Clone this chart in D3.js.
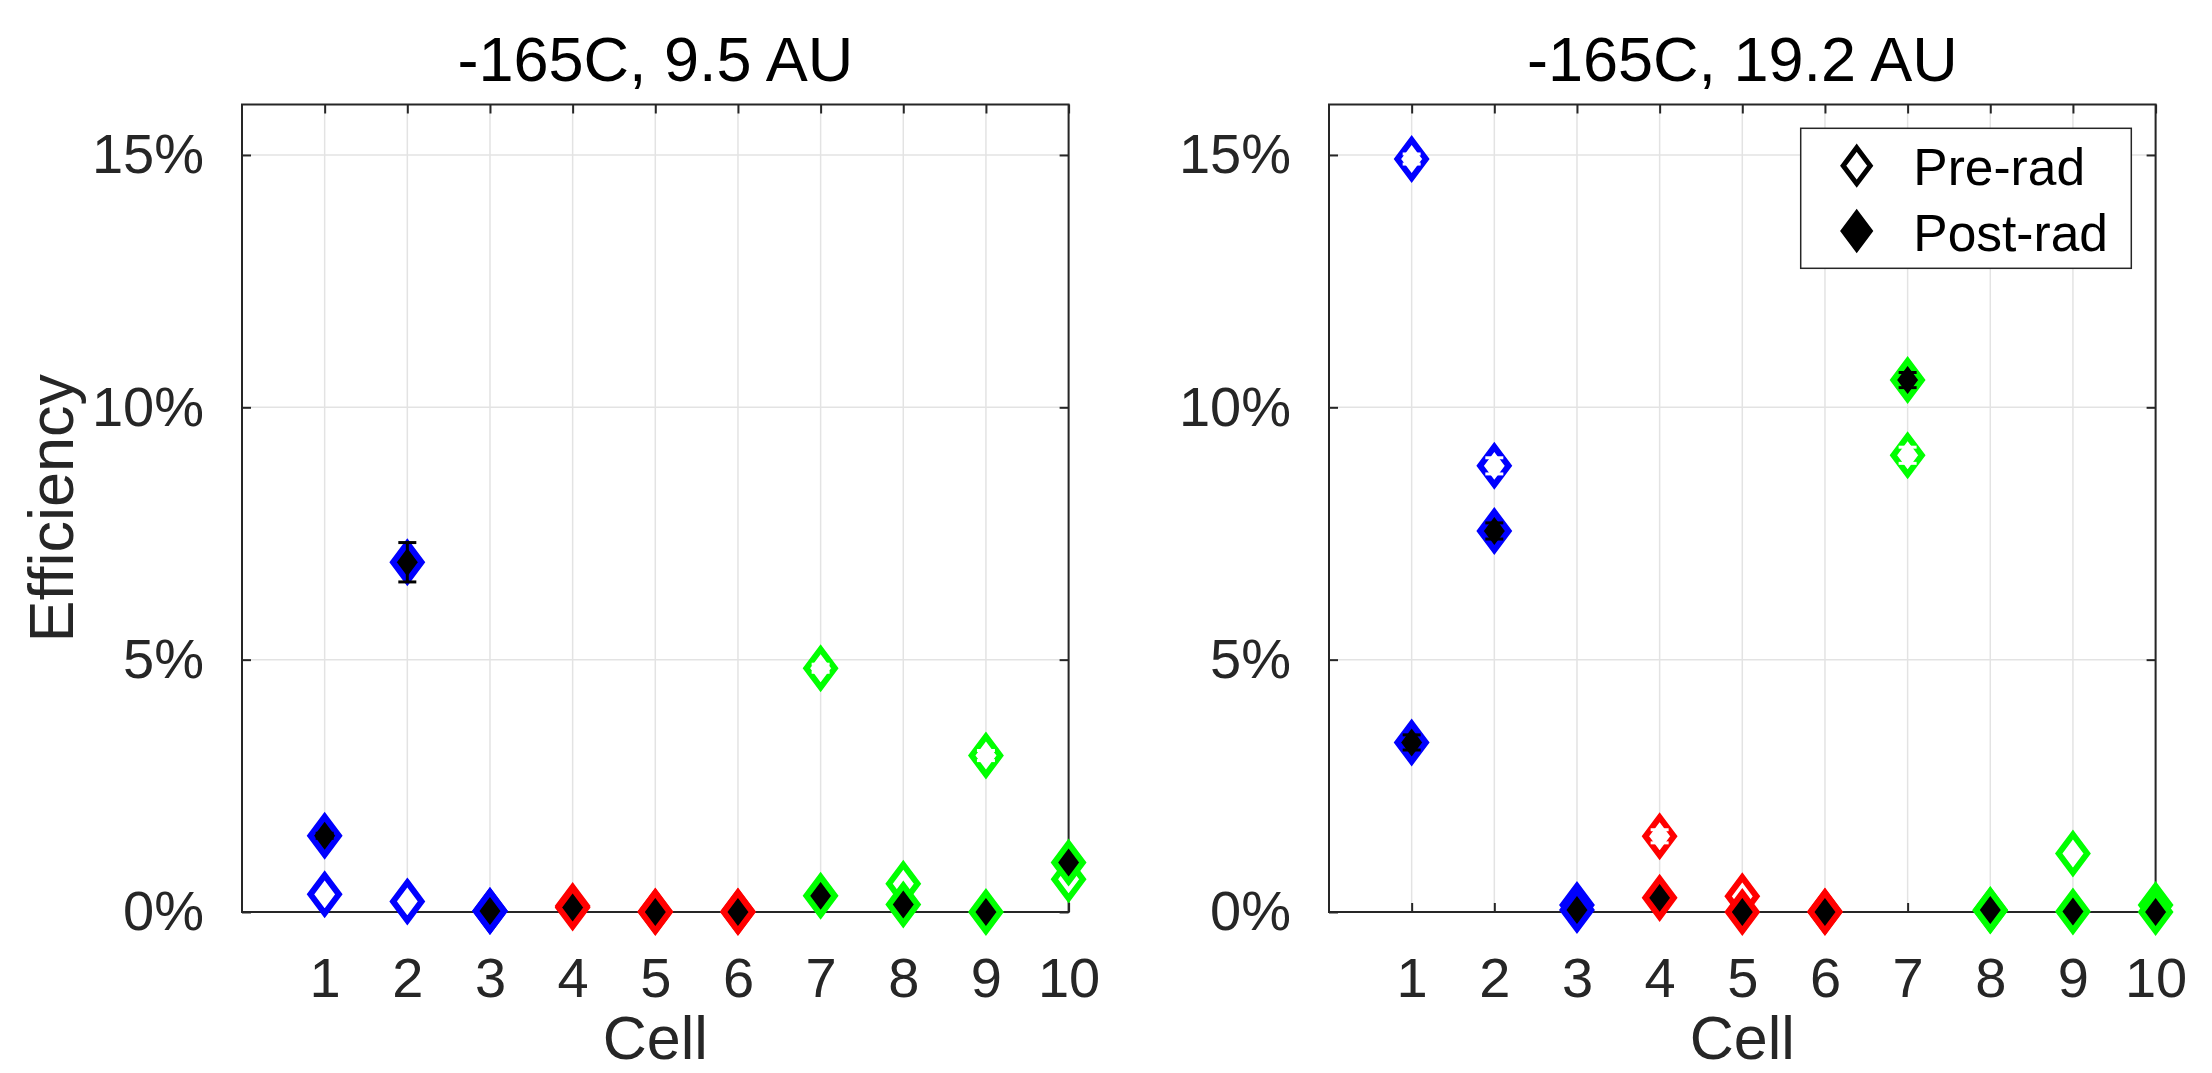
<!DOCTYPE html>
<html>
<head>
<meta charset="utf-8">
<script src="https://cdn.jsdelivr.net/npm/d3@7/dist/d3.min.js"></script>
<style>
  body { margin: 0; background: #fff; }
  svg { display: block; font-family: "Liberation Sans", Arial, Helvetica, sans-serif; }
</style>
</head>
<body>
<div id="chart"></div>
<script>
// cells + colour of each cell group
const cells = [1, 2, 3, 4, 5, 6, 7, 8, 9, 10];
const cellColors = ["#0000ff", "#0000ff", "#0000ff", "#ff0000", "#ff0000", "#ff0000",
                    "#00ff00", "#00ff00", "#00ff00", "#00ff00"];
const yTicks = [0, 5, 10, 15];
const titles = ["-165C, 9.5 AU", "-165C, 19.2 AU"];
const legendLabels = ["Pre-rad", "Post-rad"];

// efficiency (%) at 9.5 AU
const pre95 = [0.35, 0.21, 0.02, 0.12, 0.01, 0.01, 4.83, 0.56, 3.10, 0.65];
const pre95Err = [0, 0, 0, 0, 0, 0, 0.08, 0, 0.1, 0];
const post95 = [1.51, 6.93, 0.02, 0.09, 0.00, 0.00, 0.32, 0.15, 0.00, 0.98];
const post95Err = [0.05, 0.39, 0, 0, 0, 0, 0, 0, 0, 0];

// efficiency (%) at 19.2 AU
const pre192 = [14.92, 8.84, 0.14, 1.50, 0.31, 0.01, 9.05, 0.03, 1.16, 0.14];
const pre192Err = [0.1, 0.16, 0, 0.13, 0, 0, 0.16, 0, 0, 0];
const post192 = [3.36, 7.55, 0.04, 0.28, 0.00, 0.00, 10.54, 0.04, 0.01, 0.00];
const post192Err = [0.15, 0.16, 0, 0, 0, 0, 0.15, 0, 0, 0];

const W = 2212, H = 1073;
const plotTop = 104.5, plotBottom = 912, plotW = 826.6;
const axisColor = "#262626";

const svg = d3.select("#chart").append("svg")
  .attr("width", W).attr("height", H);

// tall diamond like matlab 'd'
function diamond(hw, hh) {
  return `M0,${-hh}L${hw},0L0,${hh}L${-hw},0Z`;
}
const markerPath = diamond(14.2, 19);

function drawPanel(left, title, pre, preErr, post, postErr, opts) {
  const x = d3.scaleLinear().domain([0, 10]).range([left, left + plotW]);
  const y = d3.scaleLinear().domain([0, 16]).range([plotBottom, plotTop]);
  const g = svg.append("g");

  // grid
  g.append("g").selectAll("line").data(cells).enter().append("line")
    .attr("x1", d => x(d)).attr("x2", d => x(d))
    .attr("y1", plotTop).attr("y2", plotBottom)
    .attr("stroke", "#e3e3e3").attr("stroke-width", 1.5);
  g.append("g").selectAll("line").data(yTicks.filter(d => d > 0)).enter().append("line")
    .attr("x1", x(0)).attr("x2", x(10))
    .attr("y1", d => y(d)).attr("y2", d => y(d))
    .attr("stroke", "#e3e3e3").attr("stroke-width", 1.5);

  // axes (inward ticks on all sides)
  const tick = 9;
  g.append("g").attr("transform", `translate(0,${plotBottom})`)
    .call(d3.axisBottom(x).tickValues(cells).tickSize(-tick).tickPadding(tick + 36).tickFormat(d3.format("d")))
    .call(a => a.select(".domain").remove());
  g.append("g").attr("transform", `translate(0,${plotTop})`)
    .call(d3.axisTop(x).tickValues(cells).tickSize(-tick).tickFormat(""))
    .call(a => a.select(".domain").remove());
  g.append("g").attr("transform", `translate(${x(0)},0)`)
    .call(d3.axisLeft(y).tickValues(yTicks).tickSize(-tick).tickPadding(tick + 29).tickFormat(d => d + "%"))
    .call(a => a.select(".domain").remove());
  g.append("g").attr("transform", `translate(${x(10)},0)`)
    .call(d3.axisRight(y).tickValues(yTicks).tickSize(-tick).tickFormat(""))
    .call(a => a.select(".domain").remove());

  g.selectAll(".tick line").attr("stroke", axisColor).attr("stroke-width", 2);
  g.selectAll(".tick text").attr("fill", axisColor).style("font-size", "56px")
    .style("font-family", "'Liberation Sans', Arial, sans-serif");

  g.append("rect")
    .attr("x", x(0)).attr("y", plotTop)
    .attr("width", x(10) - x(0)).attr("height", plotBottom - plotTop)
    .attr("fill", "none").attr("stroke", axisColor).attr("stroke-width", 2);

  // title + labels
  g.append("text").attr("x", (x(0) + x(10)) / 2).attr("y", 81)
    .attr("text-anchor", "middle").style("font-size", "63px").attr("fill", "#000")
    .text(title);
  g.append("text").attr("x", (x(0) + x(10)) / 2).attr("y", 1059)
    .attr("text-anchor", "middle").style("font-size", "61px").attr("fill", axisColor)
    .text("Cell");
  if (opts.yLabel) {
    g.append("text")
      .attr("transform", `translate(73,${(plotTop + plotBottom) / 2}) rotate(-90)`)
      .attr("text-anchor", "middle").style("font-size", "63px").attr("fill", axisColor)
      .text("Efficiency");
  }

  // markers: pre first, post on top; error bars over each marker
  const series = [
    { vals: pre, err: preErr, fill: () => "#fff", bar: "#fff" },
    { vals: post, err: postErr, fill: () => "#000", bar: "#000" }
  ];
  series.forEach(s => {
    const pts = cells.map((c, i) => ({ c: c, v: s.vals[i], e: s.err[i], col: cellColors[i] }));
    const m = g.append("g").selectAll("g").data(pts).enter().append("g")
      .attr("transform", d => `translate(${x(d.c)},${y(d.v)})`);
    m.append("path").attr("d", markerPath)
      .attr("fill", s.fill).attr("stroke", d => d.col)
      .attr("stroke-width", 6).attr("stroke-linejoin", "miter");
    const eb = m.filter(d => d.e > 0).append("g").attr("stroke", s.bar).attr("stroke-width", 3);
    eb.append("line").attr("x1", 0).attr("x2", 0)
      .attr("y1", d => y(d.v + d.e) - y(d.v)).attr("y2", d => y(d.v - d.e) - y(d.v));
    eb.append("line").attr("x1", -9).attr("x2", 9)
      .attr("y1", d => y(d.v + d.e) - y(d.v)).attr("y2", d => y(d.v + d.e) - y(d.v));
    eb.append("line").attr("x1", -9).attr("x2", 9)
      .attr("y1", d => y(d.v - d.e) - y(d.v)).attr("y2", d => y(d.v - d.e) - y(d.v));
  });

  if (opts.legend) {
    const lg = g.append("g").attr("transform", "translate(1800.7,128.3)");
    lg.append("rect").attr("width", 330.6).attr("height", 140)
      .attr("fill", "#fff").attr("stroke", axisColor).attr("stroke-width", 1.5);
    legendLabels.forEach((lab, i) => {
      const row = lg.append("g").attr("transform", `translate(0,${37.4 + i * 65.3})`);
      row.append("path").attr("d", diamond(13.5, 18)).attr("transform", "translate(56,0)")
        .attr("fill", i === 0 ? "#fff" : "#000").attr("stroke", "#000").attr("stroke-width", 5);
      row.append("text").attr("x", 112.6).attr("y", 19.5)
        .style("font-size", "51.5px").attr("fill", "#000").text(lab);
    });
  }
}

drawPanel(242, titles[0], pre95, pre95Err, post95, post95Err, { yLabel: true, legend: false });
drawPanel(1329, titles[1], pre192, pre192Err, post192, post192Err, { yLabel: false, legend: true });
</script>
</body>
</html>
